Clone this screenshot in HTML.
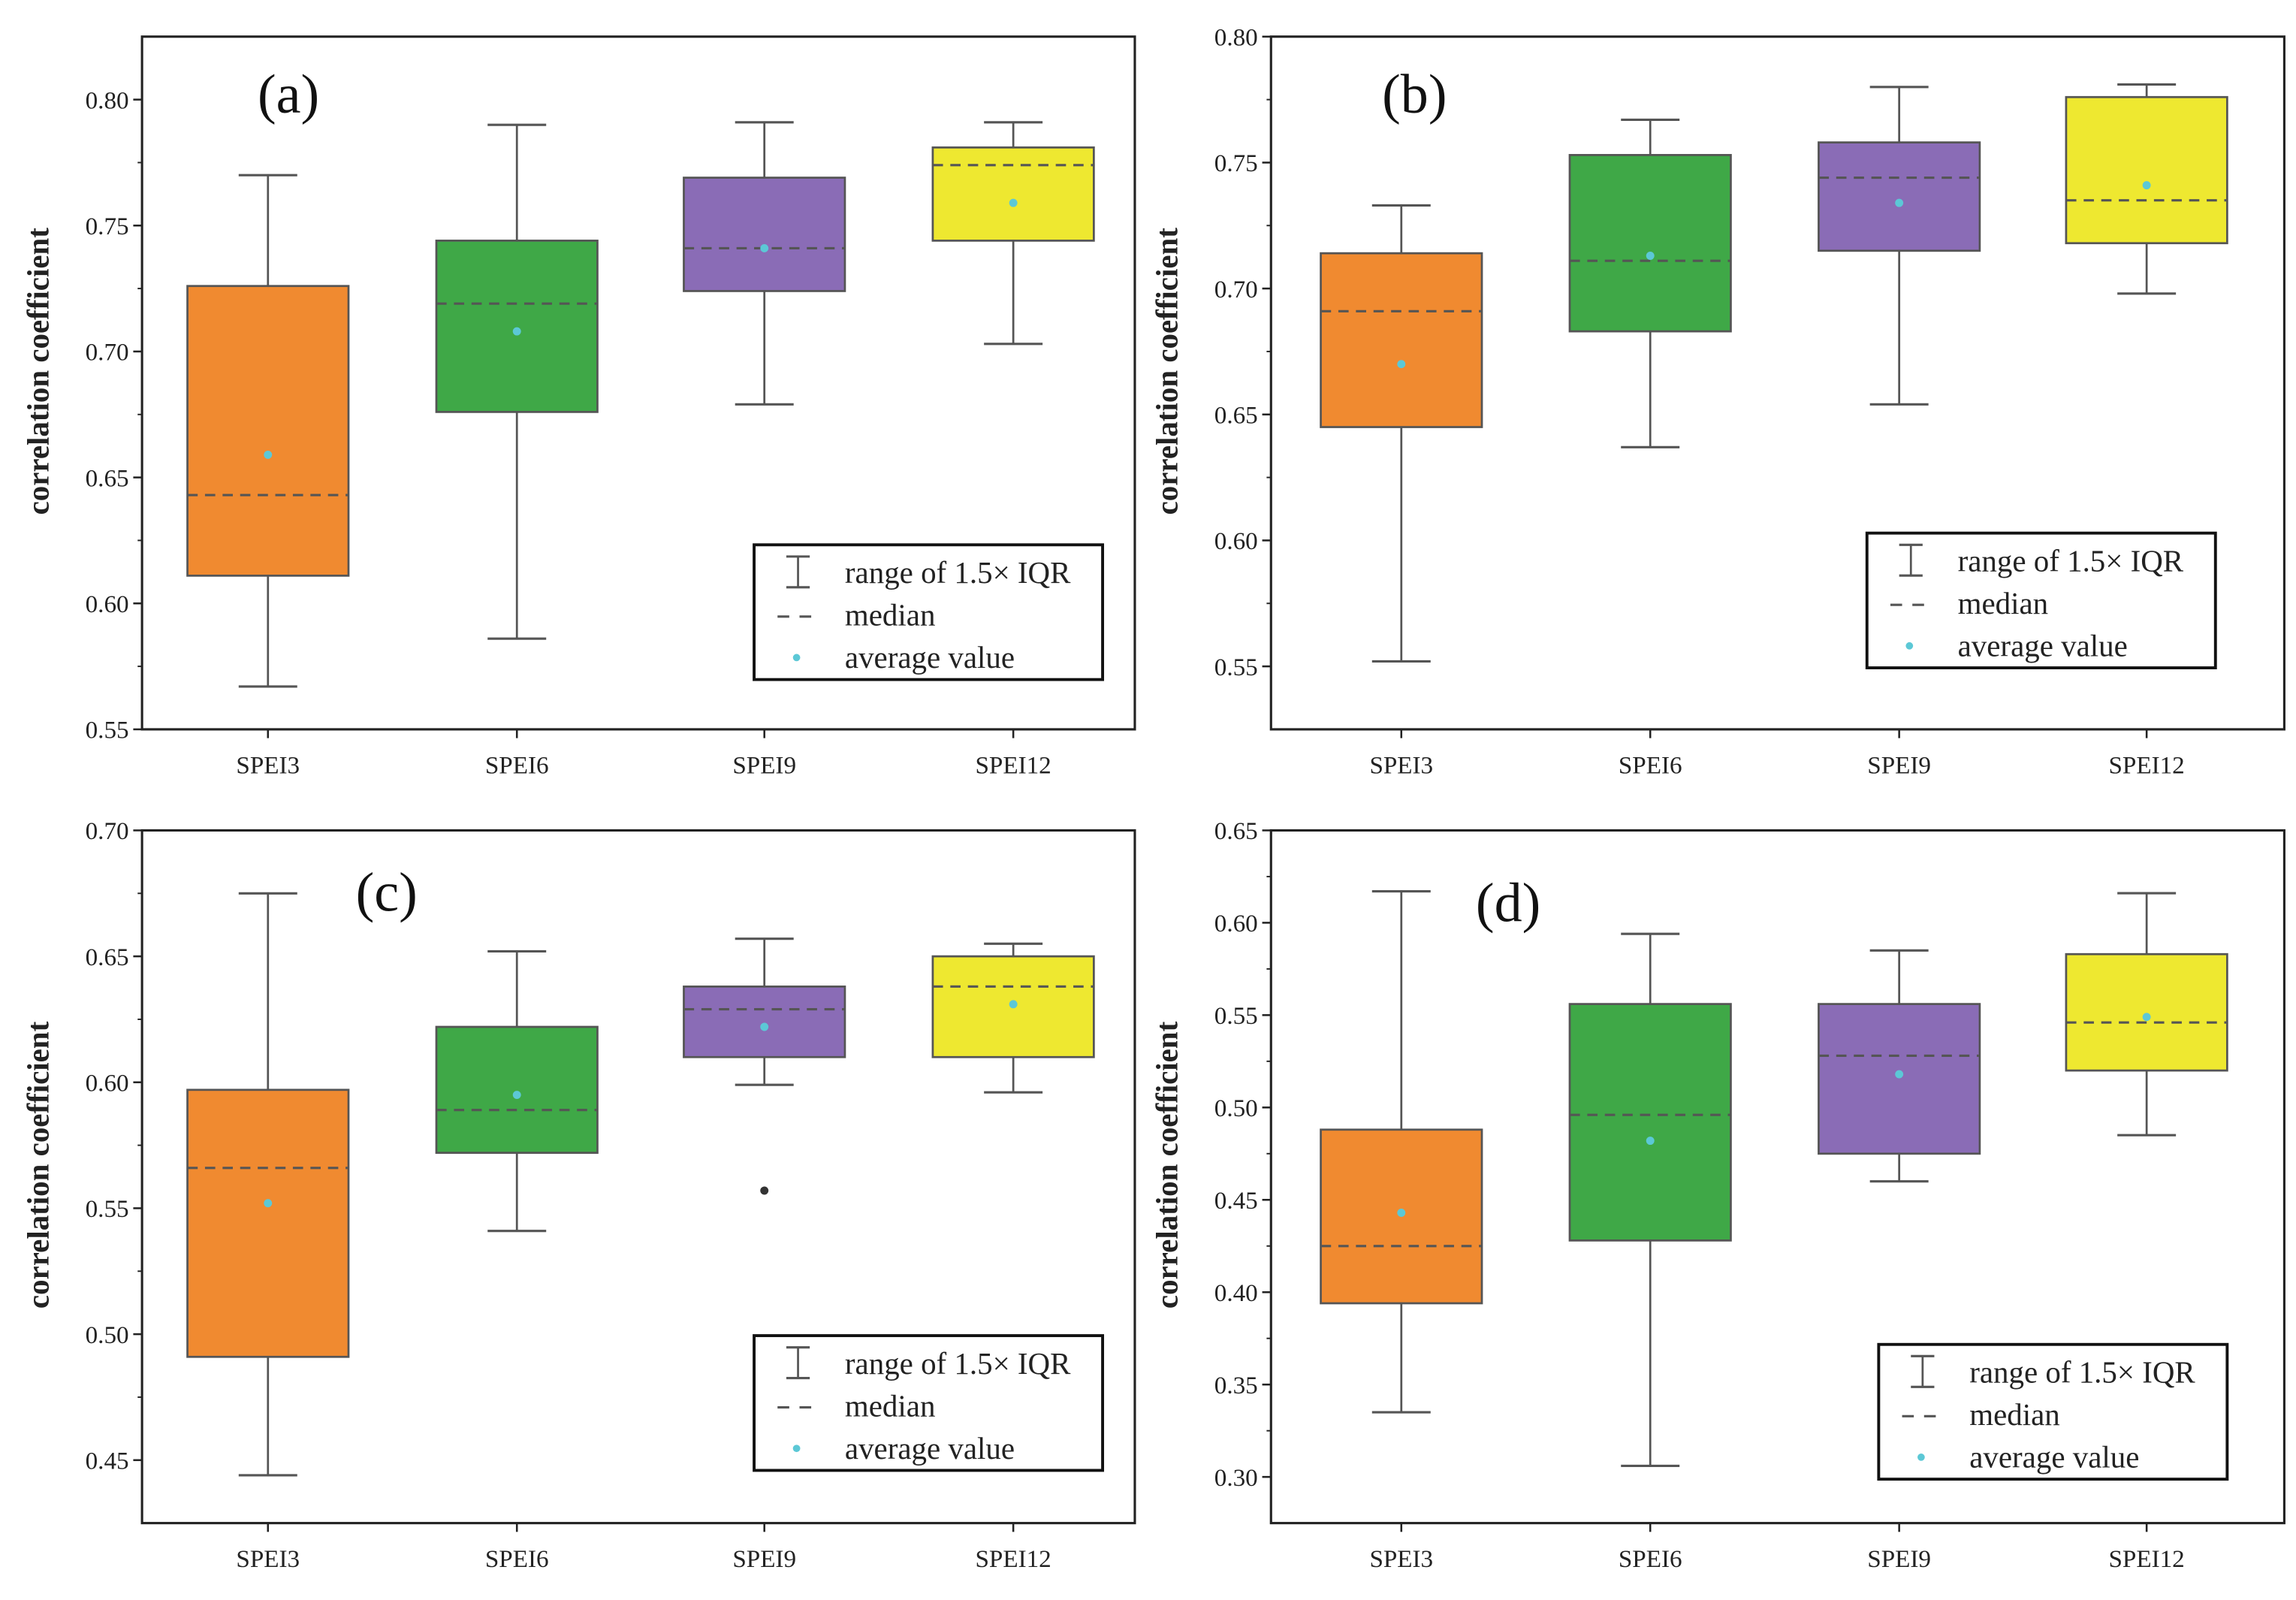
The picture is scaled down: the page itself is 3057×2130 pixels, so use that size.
<!DOCTYPE html>
<html><head><meta charset="utf-8"><style>
html,body{margin:0;padding:0;background:#fff;}
svg{display:block;font-family:"Liberation Serif",serif;}
</style></head><body>
<svg id="fig" width="3057" height="2130" viewBox="0 0 1568 1092.5" xmlns="http://www.w3.org/2000/svg"></svg>
<script>
const categories = ["SPEI3","SPEI6","SPEI9","SPEI12"];
const colors = ["#f08a30","#3fa847","#8a6cb6","#eee830"];
// panel a
const aMin=[0.567,0.586,0.679,0.703], aQ1=[0.611,0.676,0.724,0.744], aMed=[0.643,0.719,0.741,0.774], aQ3=[0.726,0.744,0.769,0.781], aMax=[0.770,0.790,0.791,0.791], aMean=[0.659,0.708,0.741,0.759];
const aTicks=[0.55,0.60,0.65,0.70,0.75,0.80];
// panel b
const bMin=[0.552,0.637,0.654,0.698], bQ1=[0.645,0.683,0.715,0.718], bMed=[0.691,0.711,0.744,0.735], bQ3=[0.714,0.753,0.758,0.776], bMax=[0.733,0.767,0.780,0.781], bMean=[0.670,0.713,0.734,0.741];
const bTicks=[0.55,0.60,0.65,0.70,0.75,0.80];
// panel c
const cMin=[0.444,0.541,0.599,0.596], cQ1=[0.491,0.572,0.610,0.610], cMed=[0.566,0.589,0.629,0.638], cQ3=[0.597,0.622,0.638,0.650], cMax=[0.675,0.652,0.657,0.655], cMean=[0.552,0.595,0.622,0.631];
const cOut=[null,null,0.557,null];
const cTicks=[0.45,0.50,0.55,0.60,0.65,0.70];
// panel d
const dMin=[0.335,0.306,0.460,0.485], dQ1=[0.394,0.428,0.475,0.520], dMed=[0.425,0.496,0.528,0.546], dQ3=[0.488,0.556,0.556,0.583], dMax=[0.617,0.594,0.585,0.616], dMean=[0.443,0.482,0.518,0.549];
const dTicks=[0.30,0.35,0.40,0.45,0.50,0.55,0.60,0.65];

const NS="http://www.w3.org/2000/svg";
const svg=document.getElementById('fig');
function mk(tag,attrs,parent,text){const e=document.createElementNS(NS,tag);for(const k in attrs)e.setAttribute(k,attrs[k]);if(text!==undefined)e.textContent=text;(parent||svg).appendChild(e);return e;}

const panels=[
 {id:'a',L:97,R:775,T:25,B:498,yTop:0.825,yBot:0.55,ticks:aTicks,mn:aMin,q1:aQ1,md:aMed,q3:aQ3,mx:aMax,me:aMean,out:null,xs:[183,353,522,692],lab:[197,65],leg:[515,372]},
 {id:'b',L:868,R:1560,T:25,B:498,yTop:0.80,yBot:0.525,ticks:bTicks,mn:bMin,q1:bQ1,md:bMed,q3:bQ3,mx:bMax,me:bMean,out:null,xs:[957,1127,1297,1466],lab:[966,65],leg:[1275,364]},
 {id:'c',L:97,R:775,T:567,B:1040,yTop:0.70,yBot:0.425,ticks:cTicks,mn:cMin,q1:cQ1,md:cMed,q3:cQ3,mx:cMax,me:cMean,out:cOut,xs:[183,353,522,692],lab:[264,610],leg:[515,912]},
 {id:'d',L:868,R:1560,T:567,B:1040,yTop:0.65,yBot:0.275,ticks:dTicks,mn:dMin,q1:dQ1,md:dMed,q3:dQ3,mx:dMax,me:dMean,out:null,xs:[957,1127,1297,1466],lab:[1030,617],leg:[1283,918]}
];

panels.forEach(p=>{
 const g=mk('g',{});
 
 
 const y=v=>p.B-(v-p.yBot)/(p.yTop-p.yBot)*(p.B-p.T);
 const fr=mk('rect',{x:p.L,y:p.T,width:p.R-p.L,height:p.B-p.T,fill:'none',stroke:'#222','stroke-width':1.6},g);
 
 
 const step=0.05;
 p.ticks.forEach(t=>{
  const yy=y(t);
  mk('line',{x1:p.L-6,x2:p.L,y1:yy,y2:yy,stroke:'#222','stroke-width':1.3},g);
  const tl=mk('text',{x:p.L-9,y:yy+6,'text-anchor':'end','font-size':17,fill:'#222'},g,t.toFixed(2));
  
  
 });
 for(let v=p.ticks[0]-step/2; v<p.yTop; v+=step){ if(v>p.yBot){const yy=y(v);mk('line',{x1:p.L-3,x2:p.L,y1:yy,y2:yy,stroke:'#222','stroke-width':1},g);} }
 const yt=mk('text',{x:0,y:0,'text-anchor':'middle','font-size':21,'font-weight':'bold',fill:'#222',transform:`translate(${p.L-64},${(p.T+p.B)/2-8}) rotate(-90)`},g,'correlation coefficient');
 
 
 categories.forEach((c,i)=>{
  const x=p.xs[i], w=55;
  mk('line',{x1:x,x2:x,y1:p.B,y2:p.B+6,stroke:'#222','stroke-width':1.3},g);
  const xl=mk('text',{x:x,y:p.B+30,'text-anchor':'middle','font-size':17,fill:'#222'},g,c);
  
  
  mk('line',{x1:x,x2:x,y1:y(p.mx[i]),y2:y(p.mn[i]),stroke:'#555','stroke-width':1.4},g);
  mk('line',{x1:x-20,x2:x+20,y1:y(p.mx[i]),y2:y(p.mx[i]),stroke:'#555','stroke-width':1.6},g);
  mk('line',{x1:x-20,x2:x+20,y1:y(p.mn[i]),y2:y(p.mn[i]),stroke:'#555','stroke-width':1.6},g);
  const b=mk('rect',{x:x-w,y:y(p.q3[i]),width:2*w,height:y(p.q1[i])-y(p.q3[i]),fill:colors[i],stroke:'#555','stroke-width':1.4},g);
  
  
  mk('line',{x1:x-w,x2:x+w,y1:y(p.md[i]),y2:y(p.md[i]),stroke:'#555','stroke-width':1.6,'stroke-dasharray':'7,5'},g);
  const m=mk('circle',{cx:x,cy:y(p.me[i]),r:2.8,fill:'#5cc8d6'},g);
  
  
  if(p.out&&p.out[i]!=null){mk('circle',{cx:x,cy:y(p.out[i]),r:2.8,fill:'#333'},g);}
 });
 const lab=mk('text',{x:p.lab[0],y:p.lab[1]+12,'text-anchor':'middle','font-size':38,fill:'#111'},g,'('+p.id+')');
 
 
 const lx=p.leg[0], ly=p.leg[1];
 const lg=mk('g',{},g);
 
 
 mk('rect',{x:lx,y:ly,width:238,height:92,fill:'#fff',stroke:'#111','stroke-width':2},lg);
 mk('line',{x1:lx+30,x2:lx+30,y1:ly+8,y2:ly+29,stroke:'#555','stroke-width':1.4},lg);
 mk('line',{x1:lx+22,x2:lx+38,y1:ly+8,y2:ly+8,stroke:'#555','stroke-width':1.6},lg);
 mk('line',{x1:lx+22,x2:lx+38,y1:ly+29,y2:ly+29,stroke:'#555','stroke-width':1.6},lg);
 mk('text',{x:lx+62,y:ly+26,'font-size':21,fill:'#222'},lg,'range of 1.5× IQR');
 mk('line',{x1:lx+16,x2:lx+44,y1:ly+49,y2:ly+49,stroke:'#555','stroke-width':1.6,'stroke-dasharray':'8,7'},lg);
 mk('text',{x:lx+62,y:ly+55,'font-size':21,fill:'#222'},lg,'median');
 mk('circle',{cx:lx+29,cy:ly+77,r:2.5,fill:'#5cc8d6'},lg);
 mk('text',{x:lx+62,y:ly+84,'font-size':21,fill:'#222'},lg,'average value');
});
</script>
</body></html>
